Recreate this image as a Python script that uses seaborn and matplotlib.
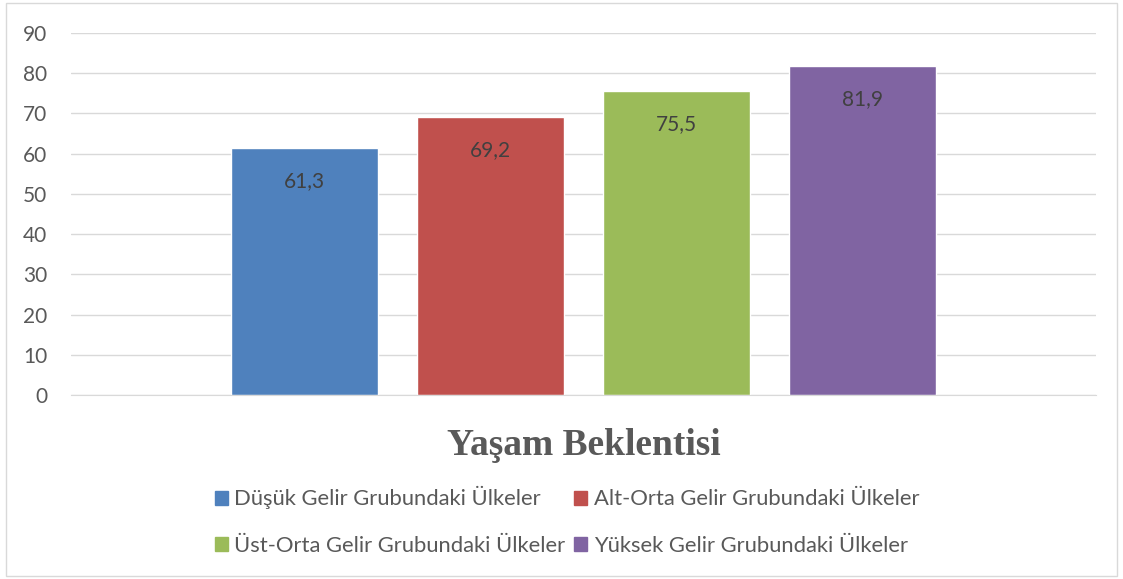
import pandas as pd
import matplotlib.pyplot as plt
import seaborn as sns
from matplotlib.patches import Rectangle

category = ["Yaşam Beklentisi"]
groups = [
    "Düşük Gelir Grubundaki Ülkeler",
    "Alt-Orta Gelir Grubundaki Ülkeler",
    "Üst-Orta Gelir Grubundaki Ülkeler",
    "Yüksek Gelir Grubundaki Ülkeler",
]
values = [61.3, 69.2, 75.5, 81.9]
colors = ["#4f81bd", "#c0504d", "#9bbb59", "#8064a2"]

data = pd.DataFrame({"Kategori": category * len(groups), "Grup": groups, "Değer": values})

sns.set_style("white")
plt.rcParams["font.family"] = ["Lato", "DejaVu Sans"]

fig = plt.figure(figsize=(11.23, 5.79), dpi=100)
ax = fig.add_axes([71 / 1123, 1 - 395 / 579, 1025 / 1123, 362 / 579])

sns.barplot(
    data=data, x="Kategori", y="Değer", hue="Grup", hue_order=groups,
    palette=colors, width=0.726, gap=0.21, saturation=1, ax=ax, legend=False,
)

ax.set_xlim(-0.5, 0.5)
ax.set_ylim(0, 90)
ax.set_yticks(range(0, 91, 10))
ax.yaxis.grid(True, color="#d9d9d9", linewidth=1)
ax.set_axisbelow(True)
for side in ["left", "right", "top"]:
    ax.spines[side].set_visible(False)
ax.spines["bottom"].set_color("#d9d9d9")
ax.tick_params(axis="y", length=0, labelsize=15, labelcolor="#595959", pad=17)
ax.tick_params(axis="x", length=0, pad=24)
ax.set_xlabel("")
ax.set_ylabel("")
for lbl in ax.get_xticklabels():
    lbl.set_fontfamily("Liberation Serif")
    lbl.set_fontweight("bold")
    lbl.set_fontsize(27)
    lbl.set_color("#595959")

for cont, v in zip(ax.containers, values):
    ax.bar_label(cont, labels=[f"{v:.1f}".replace(".", ",")], label_type="edge",
                 padding=-31, fontsize=15, color="#404040")

# legend fills row by row in the original
order = [0, 2, 1, 3]
handles = [Rectangle((0, 0), 1, 1, color=colors[i]) for i in order]
fig.legend(
    handles, [groups[i] for i in order], loc="center",
    bbox_to_anchor=(567 / 1123, 1 - 521 / 579), ncol=2,
    frameon=False, fontsize=15.8, labelcolor="#595959", handlelength=0.6,
    handleheight=0.6, handletextpad=0.3, columnspacing=0.4, labelspacing=1.2,
)

fig.add_artist(Rectangle((6 / 1123, 3 / 579), 1111 / 1123, 573 / 579,
                         transform=fig.transFigure, fill=False,
                         edgecolor="#d9d9d9", linewidth=1))

fig.savefig("out.png", dpi=100)
